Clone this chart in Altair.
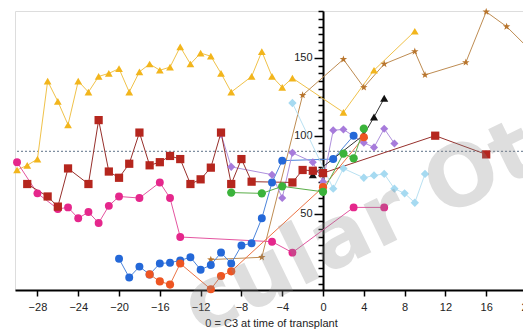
import altair as alt
import pandas as pd

# ---- data ----
yellow_x = [-30,-29,-28,-27,-26,-25,-24,-23,-22,-21,-20,-19,-18,-17,-16,-15,-14,-13,-12,-11,-10,-9,-7,-6,-5,-4,-3,2,5,9]
yellow_y = [78,81,85,135,122,107,135,128,138,140,143,128,141,146,142,144,157,146,153,151,140,128,138,154,138,131,137,115,142,167]

brown_x = [-11,-6,-2,2,4,6,9,10,14,16,18,20]
brown_y = [20.5,22,126,149,131,146,154,139,147,179.5,170,157]

magenta_x = [-30,-28,-26,-25,-24,-23,-22,-21,-20,-18,-16,-15,-14,-5,-3,3,6]
magenta_y = [83,63,53,54,47,51,44,55,61,60,70,60,35,32,25,54,54]

blue_x = [-20,-19,-18,-17,-16,-15,-14,-13,-12,-11,-10,-9,-8,-7,-6,-5,-4,1,3]
blue_y = [21,9,16,11,18,18.5,20,22,14,17,25,18,29.5,31,47,70,84,85,100]

purple_x = [-10,-9,-5,-4,-3,-1,0,1,2,4,5,6,7]
purple_y = [101,80,75,60,89,83,70.5,103.5,104,95.5,92.5,104.5,95]

black_x = [-1,4,5,6]
black_y = [75,100.5,112,124]

orange_x = [-17,-16,-15,-14,-11,-10,-9,0,4]
orange_y = [11,6.5,4.5,18,1.5,10,13,67,99]

red_x = [-29,-27,-26,-25,-23,-22,-21,-20,-19,-18,-17,-16,-15,-14,-13,-12,-11,-10,-9,-8,-7,-3,-2,-1,0,11,16]
red_y = [69,61,54.5,79,69,110,77,73,82,102,81,83,87,85,69,72,79.5,102,69,85,70.5,70,78,77.5,76,100,88]

green_x = [-9,-6,-4,0,2,3,4]
green_y = [63.5,63,67.5,64,88.5,85.5,104.5]

lightblue_x = [-3,1,2,4,5,6,7,8,9,10]
lightblue_y = [121,66,79,73,74.5,75.5,66,63,57,75.5]

ref_level = [90]
x_ticks = list(range(-28, 21, 4))
y_ticks = list(range(5, 181, 5))
x_title = "0 = C3 at time of transplant"
watermark = ["cular Ot"]

series_data = [
    ("yellow", yellow_x, yellow_y),
    ("brown", brown_x, brown_y),
    ("magenta", magenta_x, magenta_y),
    ("blue", blue_x, blue_y),
    ("purple", purple_x, purple_y),
    ("black", black_x, black_y),
    ("orange", orange_x, orange_y),
    ("red", red_x, red_y),
    ("green", green_x, green_y),
    ("lightblue", lightblue_x, lightblue_y),
]

rows = []
for order, (name, xs, ys) in enumerate(series_data):
    for i, (xv, yv) in enumerate(zip(xs, ys)):
        rows.append({"series": name, "x": xv, "y": yv, "o": order * 100 + i})
df = pd.DataFrame(rows)

# ---- styles ----
names = [s[0] for s in series_data]
star = "M0,-1L0.235,-0.324L0.951,-0.309L0.38,0.124L0.588,0.809L0,0.4L-0.588,0.809L-0.38,0.124L-0.951,-0.309L-0.235,-0.324Z"
style = {
    "yellow":    ("#F0C24A", "#F2B51C", "triangle-up", 60),
    "brown":     ("#BE8C52", "#B8752D", star, 70),
    "magenta":   ("#E455A0", "#E5278C", "circle", 50),
    "blue":      ("#4C84DA", "#2468D8", "circle", 80),
    "purple":    ("#AE90DC", "#A77BDB", "diamond", 60),
    "black":     ("#333333", "#111111", "triangle-up", 60),
    "orange":    ("#EC7446", "#EE5522", "circle", 40),
    "red":       ("#97302C", "#B5261E", "square", 110),
    "green":     ("#5AAE48", "#3BB33B", "circle", 85),
    "lightblue": ("#B9E1F2", "#A6DAF1", "diamond", 30),
}
line_colors = [style[n][0] for n in names]
fill_colors = [style[n][1] for n in names]
shapes = [style[n][2] for n in names]
sizes = [style[n][3] for n in names]

font = "Liberation Sans"
W, H = 512, 279
x_min, x_max = -30.2, 20
zero_px = (0 - x_min) / (x_max - x_min) * W

xscale = alt.Scale(domain=[x_min, x_max], nice=False, zero=False)
yscale = alt.Scale(domain=[1, 180], nice=False, zero=False)

xaxis = alt.Axis(
    values=x_ticks, title=x_title, grid=False, labelFlush=False,
    domainColor="black", domainWidth=2, tickColor="black", tickWidth=1.5, tickSize=6,
    labelFont=font, labelFontSize=11, labelColor="#222", labelPadding=5,
    titleFont=font, titleFontSize=11, titleFontWeight="normal", titleColor="#222", titlePadding=5,
)
yaxis = alt.Axis(
    values=y_ticks, title=None, grid=False, offset=-zero_px,
    labelExpr="datum.value % 50 === 0 ? datum.label : ''",
    tickSize={"condition": {"test": "datum.value % 50 === 0", "value": 9}, "value": 5},
    domainColor="black", domainWidth=2, tickColor="black", tickWidth=1.5,
    labelFont=font, labelFontSize=11, labelColor="#222", labelPadding=2,
)

X = alt.X("x:Q", scale=xscale, axis=xaxis)
Y = alt.Y("y:Q", scale=yscale, axis=yaxis)

base = alt.Chart(df)

lines = base.mark_line(strokeWidth=1).encode(
    x=X, y=Y,
    color=alt.Color("series:N", scale=alt.Scale(domain=names, range=line_colors), legend=None),
    order="o:Q",
)

points = base.mark_point(filled=True, opacity=1, strokeWidth=0).encode(
    x=X, y=Y,
    fill=alt.Fill("series:N", scale=alt.Scale(domain=names, range=fill_colors), legend=None),
    shape=alt.Shape("series:N", scale=alt.Scale(domain=names, range=shapes), legend=None),
    size=alt.Size("series:N", scale=alt.Scale(domain=names, range=sizes), legend=None),
    order="o:Q",
)

ref = alt.Chart(pd.DataFrame({"y": ref_level})).mark_rule(
    color="#7F8EA0", strokeDash=[2, 2], strokeWidth=1.2
).encode(y=Y)

wm = alt.Chart(pd.DataFrame({"t": watermark})).mark_text(
    angle=334, fontSize=85, fontWeight="bold", font="DejaVu Sans",
    color="#8a8a8a", opacity=0.28, align="left", baseline="alphabetic",
).encode(text="t:N", x=alt.value(185), y=alt.value(325))

chart = alt.layer(ref, lines, points, wm).properties(
    width=W, height=H,
    autosize="none",
    padding={"left": 7, "top": 3, "right": -4, "bottom": 41},
).configure_view(stroke=None).configure(background="white")

chart.save("out.html", embed_options={"renderer": "svg", "actions": False})
